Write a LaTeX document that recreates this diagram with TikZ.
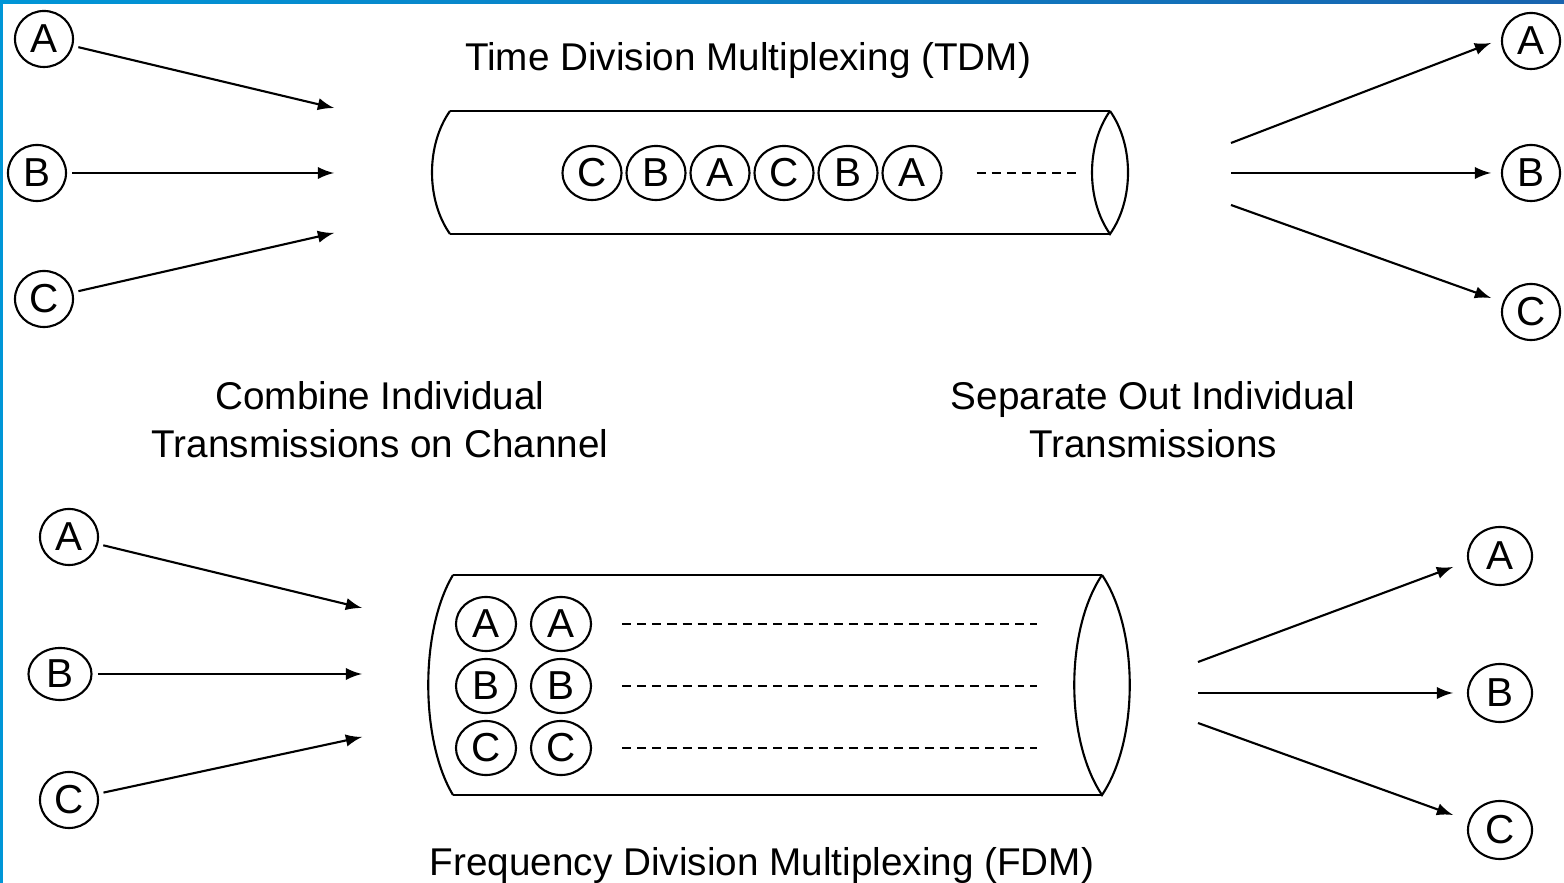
\documentclass[tikz,border=0pt]{standalone}
\usepackage{fontspec}
\setmainfont{Liberation Sans}
\usetikzlibrary{shapes.geometric}
\definecolor{edgeblue}{RGB}{0,150,215}
\definecolor{edgedark}{RGB}{25,100,175}
\begin{document}
\begin{tikzpicture}[x=0.01cm, y=-0.01cm, line width=0.6pt, >=latex,
    sig/.style={ellipse, draw, inner sep=0pt, minimum width=0.58cm,
      minimum height=0.56cm, font=\fontsize{11.5}{12}\selectfont},
    sigwide/.style={sig, minimum width=0.64cm, minimum height=0.58cm},
    chan/.style={dashed, dash pattern=on 2.6pt off 1.7pt},
    label/.style={font=\fontsize{11}{13.7}\selectfont, align=center}]
  \useasboundingbox (0,0) rectangle (1564,883);
  \fill[white] (0,0) rectangle (1564,883);
  \fill[edgeblue] (0,0) rectangle (3,883);
  \shade[left color=edgeblue, right color=edgedark] (0,0) rectangle (1564,4);
  \node[label, anchor=base] (tdmtitle) at (748,71) {Time Division Multiplexing (TDM)};
  \node[label, anchor=base] (fdmtitle) at (762,876) {Frequency Division Multiplexing (FDM)};
  \node[label, anchor=base] (combine) at (380,458) {Combine Individual\\Transmissions on Channel};
  \node[label, anchor=base] (separate) at (1153,458) {Separate Out Individual\\Transmissions};
  \node[sig] (tinA) at (44,39) {A};
  \node[sig] (tinB) at (37,173) {B};
  \node[sig] (tinC) at (44,299) {C};
  \node[sig] (toutA) at (1531,41) {A};
  \node[sig] (toutB) at (1531,173) {B};
  \node[sig] (toutC) at (1531,312) {C};
  \foreach \l/\y in {A/108, B/173, C/233} {
    \coordinate (tmux\l) at (334,\y);
    \draw[->, shorten <=1.5pt] (tin\l) -- (tmux\l);
  }
  \foreach \l/\ys/\ye in {A/143/43, B/173/173, C/205/298} {
    \coordinate (tdem\l) at (1231,\ys);
    \coordinate (tend\l) at (1491,\ye);
    \draw[->] (tdem\l) -- (tend\l);
  }
  \draw (450,111) -- (1110,111) (450,234) -- (1110,234);
  \draw (450,111) .. controls (426,145) and (426,200) .. (450,234);
  \draw (1110,111) .. controls (1086,145) and (1086,200) .. (1110,234)
        .. controls (1134,200) and (1134,145) .. (1110,111);
  \foreach \l [count=\i] in {C,B,A,C,B,A}
    \node[sig, minimum width=0.59cm, minimum height=0.54cm] (tdm\i) at ({592+64*(\i-1)},173) {\l};
  \draw[chan] ([xshift=0.34cm]tdm6.east) -- +(104,0);
  \node[sig] (finA) at (69,537) {A};
  \node[sig, minimum width=0.63cm, minimum height=0.52cm] (finB) at (60,674) {B};
  \node[sig] (finC) at (69,800) {C};
  \node[sigwide] (foutA) at (1500,556) {A};
  \node[sigwide] (foutB) at (1500,693) {B};
  \node[sigwide] (foutC) at (1500,830) {C};
  \foreach \l/\y in {A/608, B/674, C/737} {
    \coordinate (fmux\l) at (362,\y);
    \draw[->, shorten <=1.5pt] (fin\l) -- (fmux\l);
  }
  \foreach \l/\ys/\ye in {A/662/567, B/693/693, C/723/815} {
    \coordinate (fdem\l) at (1198,\ys);
    \coordinate (fend\l) at (1453,\ye);
    \draw[->] (fdem\l) -- (fend\l);
  }
  \draw (453,575) -- (1102,575) (453,795) -- (1102,795);
  \draw (453,575) .. controls (420,630) and (420,740) .. (453,795);
  \draw (1102,575) .. controls (1065,630) and (1065,740) .. (1102,795)
        .. controls (1139,740) and (1139,630) .. (1102,575);
  \foreach \l/\y in {A/624, B/686, C/748} {
    \node[sig, minimum width=0.6cm, minimum height=0.54cm] (fa\l) at (486,\y) {\l};
    \node[sig, minimum width=0.6cm, minimum height=0.54cm] (fb\l) at (561,\y) {\l};
    \draw[chan] ([xshift=0.3cm]fb\l.east) -- +(415,0);
  }
\end{tikzpicture}
\end{document}
